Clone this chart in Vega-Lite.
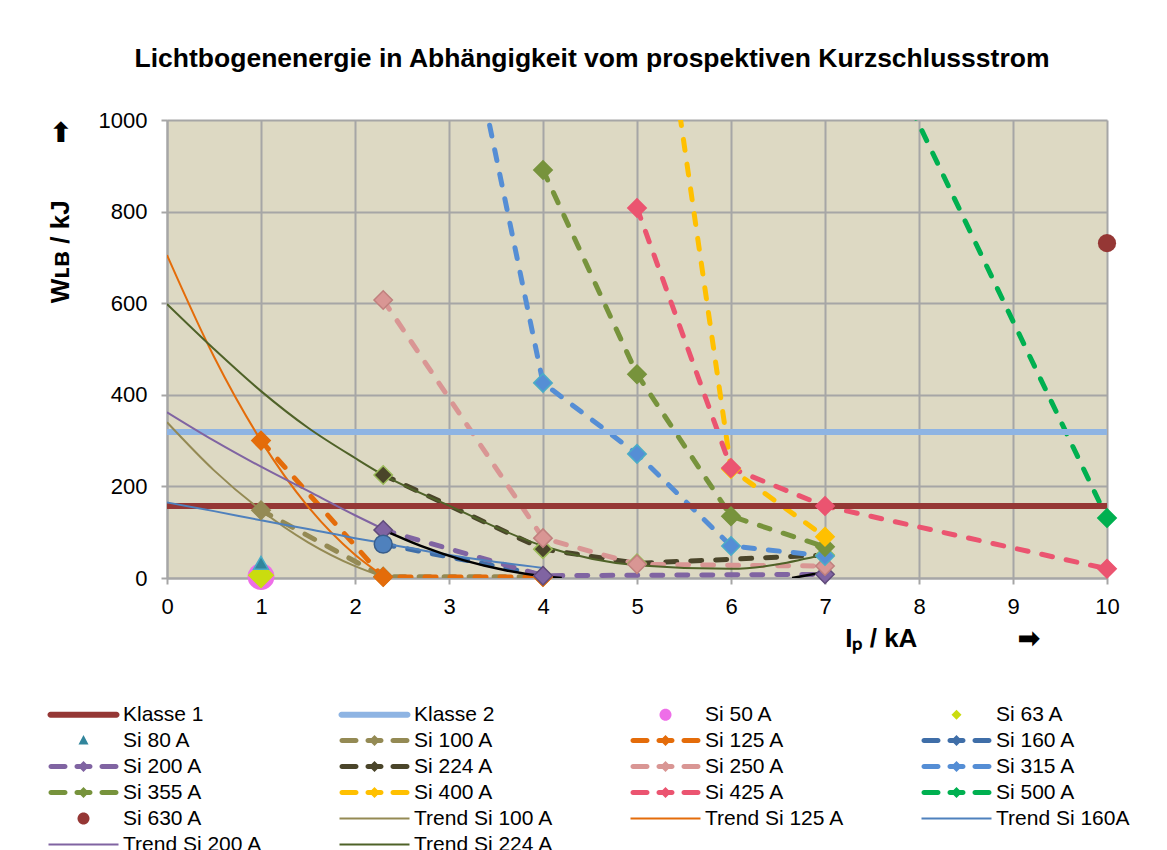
{
  "$schema": "https://vega.github.io/schema/vega-lite/v6.json",
  "width": 940,
  "height": 458,
  "autosize": {"type": "none"},
  "padding": {"left": 167, "top": 120, "right": 60, "bottom": 272},
  "background": "white",
  "title": {
    "text": "Lichtbogenenergie in Abhängigkeit vom prospektiven Kurzschlussstrom",
    "font": "Liberation Sans", "fontSize": 26.5, "fontWeight": "bold", "color": "black",
    "anchor": "middle", "frame": "group", "baseline": "middle", "offset": 24, "dx": -45
  },
  "config": {
    "view": {"stroke": null, "fill": "#DDD9C3"},
    "axis": {
      "grid": true, "gridColor": "#A6A6A6", "gridWidth": 2,
      "domainColor": "#A6A6A6", "domainWidth": 2,
      "tickColor": "#A6A6A6", "tickWidth": 2, "tickSize": 6,
      "labelFont": "Liberation Sans", "labelFontSize": 22, "labelColor": "black",
      "labelFlush": false, "labelOverlap": false,
      "titleFont": "Liberation Sans", "titleFontSize": 26, "titleFontWeight": "bold", "titleColor": "black"
    }
  },
  "datasets": {
    "pts": [
      {"s": "Klasse 1", "x": 0, "y": 157}, {"s": "Klasse 1", "x": 10, "y": 157},
      {"s": "Klasse 2", "x": 0, "y": 319}, {"s": "Klasse 2", "x": 10, "y": 319},
      {"s": "Si 50 A", "x": 1, "y": 3},
      {"s": "Si 63 A", "x": 1, "y": 6},
      {"s": "Si 80 A", "x": 1, "y": 33},
      {"s": "Si 100 A", "x": 1, "y": 148}, {"s": "Si 100 A", "x": 2.3, "y": 3}, {"s": "Si 100 A", "x": 4, "y": 3},
      {"s": "Si 125 A", "x": 1, "y": 300}, {"s": "Si 125 A", "x": 2.3, "y": 2}, {"s": "Si 125 A", "x": 4, "y": 2},
      {"s": "Si 160 A", "x": 2.3, "y": 74}, {"s": "Si 160 A", "x": 4, "y": 6},
      {"s": "Si 200 A", "x": 2.3, "y": 105}, {"s": "Si 200 A", "x": 4, "y": 5}, {"s": "Si 200 A", "x": 7, "y": 8},
      {"s": "Si 224 A", "x": 2.3, "y": 225}, {"s": "Si 224 A", "x": 4, "y": 63}, {"s": "Si 224 A", "x": 5, "y": 32}, {"s": "Si 224 A", "x": 7, "y": 50},
      {"s": "Si 250 A", "x": 2.3, "y": 607}, {"s": "Si 250 A", "x": 4, "y": 87}, {"s": "Si 250 A", "x": 5, "y": 30}, {"s": "Si 250 A", "x": 7, "y": 26},
      {"s": "Si 315 A", "x": 3, "y": 1416}, {"s": "Si 315 A", "x": 4, "y": 426}, {"s": "Si 315 A", "x": 5, "y": 271}, {"s": "Si 315 A", "x": 6, "y": 70}, {"s": "Si 315 A", "x": 7, "y": 48},
      {"s": "Si 355 A", "x": 4, "y": 891}, {"s": "Si 355 A", "x": 5, "y": 445}, {"s": "Si 355 A", "x": 6, "y": 135}, {"s": "Si 355 A", "x": 7, "y": 68},
      {"s": "Si 400 A", "x": 5, "y": 1660}, {"s": "Si 400 A", "x": 6, "y": 238}, {"s": "Si 400 A", "x": 7, "y": 90},
      {"s": "Si 425 A", "x": 5, "y": 808}, {"s": "Si 425 A", "x": 6, "y": 240}, {"s": "Si 425 A", "x": 7, "y": 157}, {"s": "Si 425 A", "x": 10, "y": 20},
      {"s": "Si 500 A", "x": 7, "y": 1420}, {"s": "Si 500 A", "x": 10, "y": 131},
      {"s": "Si 630 A", "x": 10, "y": 731},
      {"s": "Trend Si 100 A", "x": 0, "y": 340}, {"s": "Trend Si 100 A", "x": 0.5, "y": 235}, {"s": "Trend Si 100 A", "x": 1, "y": 148}, {"s": "Trend Si 100 A", "x": 1.5, "y": 78}, {"s": "Trend Si 100 A", "x": 2, "y": 26}, {"s": "Trend Si 100 A", "x": 2.3, "y": 3},
      {"s": "Trend Si 125 A", "x": 0, "y": 705}, {"s": "Trend Si 125 A", "x": 0.5, "y": 483}, {"s": "Trend Si 125 A", "x": 1, "y": 300}, {"s": "Trend Si 125 A", "x": 1.5, "y": 156}, {"s": "Trend Si 125 A", "x": 2, "y": 51}, {"s": "Trend Si 125 A", "x": 2.3, "y": 5},
      {"s": "Trend Si 160A", "x": 0, "y": 165}, {"s": "Trend Si 160A", "x": 0.5, "y": 146}, {"s": "Trend Si 160A", "x": 1, "y": 126}, {"s": "Trend Si 160A", "x": 1.5, "y": 107}, {"s": "Trend Si 160A", "x": 2, "y": 87}, {"s": "Trend Si 160A", "x": 2.3, "y": 76}, {"s": "Trend Si 160A", "x": 3, "y": 50}, {"s": "Trend Si 160A", "x": 3.5, "y": 35}, {"s": "Trend Si 160A", "x": 4, "y": 22},
      {"s": "Trend Si 200 A", "x": 0, "y": 362}, {"s": "Trend Si 200 A", "x": 0.5, "y": 300}, {"s": "Trend Si 200 A", "x": 1, "y": 243}, {"s": "Trend Si 200 A", "x": 1.5, "y": 190}, {"s": "Trend Si 200 A", "x": 2, "y": 137}, {"s": "Trend Si 200 A", "x": 2.3, "y": 107},
      {"s": "Trend Si 224 A", "x": 0, "y": 598}, {"s": "Trend Si 224 A", "x": 0.5, "y": 500}, {"s": "Trend Si 224 A", "x": 1, "y": 408}, {"s": "Trend Si 224 A", "x": 1.5, "y": 328}, {"s": "Trend Si 224 A", "x": 2, "y": 262}, {"s": "Trend Si 224 A", "x": 2.3, "y": 225}, {"s": "Trend Si 224 A", "x": 3, "y": 158}, {"s": "Trend Si 224 A", "x": 4, "y": 70}, {"s": "Trend Si 224 A", "x": 5, "y": 28}, {"s": "Trend Si 224 A", "x": 6, "y": 20}, {"s": "Trend Si 224 A", "x": 7, "y": 52},
      {"s": "Trend schwarz", "t": "a", "x": 2.3, "y": 105}, {"s": "Trend schwarz", "t": "a", "x": 2.7, "y": 70}, {"s": "Trend schwarz", "t": "a", "x": 3.15, "y": 39}, {"s": "Trend schwarz", "t": "a", "x": 3.6, "y": 17}, {"s": "Trend schwarz", "t": "a", "x": 4, "y": 4}, {"s": "Trend schwarz", "t": "a", "x": 4.2, "y": 0},
      {"s": "Trend schwarz", "t": "b", "x": 6.65, "y": 0}, {"s": "Trend schwarz", "t": "b", "x": 7, "y": 13}
    ]
  },
  "data": {"name": "pts"},
  "encoding": {
    "x": {
      "field": "x", "type": "quantitative",
      "scale": {"domain": [0, 10], "nice": false, "zero": false},
      "axis": {
        "values": [0, 1, 2, 3, 4, 5, 6, 7, 8, 9, 10], "labelPadding": 12, "format": "d",
        "title": "Iₚ / kA\u00a0\u00a0\u00a0\u00a0\u00a0\u00a0\u00a0\u00a0\u00a0\u00a0\u00a0\u00a0\u00a0\u00a0➡", "titleAlign": "right", "titleBaseline": "middle", "titleX": 873, "titleY": 60
      }
    },
    "y": {
      "field": "y", "type": "quantitative",
      "scale": {"domain": [0, 1000], "nice": false},
      "axis": {
        "values": [0, 200, 400, 600, 800, 1000], "labelPadding": 14, "format": "d",
        "title": "Wʟʙ / kJ\u00a0\u00a0\u00a0\u00a0\u00a0\u00a0\u00a0\u00a0➡", "titleAngle": -90, "titleAlign": "right", "titleBaseline": "middle", "titleX": -107, "titleY": 0
      }
    },
    "color": {
      "field": "s", "type": "nominal",
      "scale": {
        "domain": ["Klasse 1", "Klasse 2", "Si 50 A", "Si 63 A", "Si 80 A", "Si 100 A", "Si 125 A", "Si 160 A", "Si 200 A", "Si 224 A", "Si 250 A", "Si 315 A", "Si 355 A", "Si 400 A", "Si 425 A", "Si 500 A", "Si 630 A", "Trend Si 100 A", "Trend Si 125 A", "Trend Si 160A", "Trend Si 200 A", "Trend Si 224 A"],
        "range": ["#953735", "#8EB4E3", "#EE6EE8", "#CADC0F", "#31859C", "#948A54", "#E46C0A", "#3F6EA8", "#8064A2", "#4A452A", "#D99694", "#558ED5", "#77933C", "#FFC000", "#EB5470", "#00B050", "#953735", "#948A54", "#E46C0A", "#4F81BD", "#8064A2", "#4F6228"]
      },
      "legend": {
        "title": null, "orient": "none", "direction": "horizontal", "legendX": -120, "legendY": 584, "padding": 0,
        "columns": 4, "gridAlign": "all", "columnPadding": 75, "rowPadding": 4,
        "symbolSize": 400, "symbolOffset": 26, "labelOffset": 29, "symbolStrokeWidth": 0, "symbolOpacity": 1,
        "labelFont": "Liberation Sans", "labelFontSize": 21, "labelColor": "black", "labelLimit": 300,
        "encode": {
          "symbols": {
            "update": {
              "shape": {"scale": "shape", "field": "value"},
              "size": {"value": 400},
              "fill": {"scale": "color", "field": "value"},
              "stroke": {"value": "transparent"},
              "strokeWidth": {"value": 0},
              "opacity": {"value": 1}
            }
          }
        }
      }
    }
  },
  "layer": [
    {
      "transform": [{"filter": "false"}],
      "mark": {"type": "point", "filled": true},
      "encoding": {
        "shape": {
          "field": "s", "type": "nominal",
          "scale": {
            "domain": ["Klasse 1", "Klasse 2", "Si 50 A", "Si 63 A", "Si 80 A", "Si 100 A", "Si 125 A", "Si 160 A", "Si 200 A", "Si 224 A", "Si 250 A", "Si 315 A", "Si 355 A", "Si 400 A", "Si 425 A", "Si 500 A", "Si 630 A", "Trend Si 100 A", "Trend Si 125 A", "Trend Si 160A", "Trend Si 200 A", "Trend Si 224 A"],
            "range": [
              "M-3.3,-0.3H3.3A0.3,0.3 0 0 1 3.3,0.3H-3.3A0.3,0.3 0 0 1 -3.3,-0.3Z",
              "M-3.3,-0.3H3.3A0.3,0.3 0 0 1 3.3,0.3H-3.3A0.3,0.3 0 0 1 -3.3,-0.3Z",
              "M-0.6,0A0.6,0.6 0 1 1 0.6,0A0.6,0.6 0 1 1 -0.6,0Z",
              "M0,-0.5L0.5,0L0,0.5L-0.5,0Z",
              "M0,-0.55L0.5,0.4L-0.5,0.4Z",
              "M-3.25,-0.25H-1.85A0.25,0.25 0 0 1 -1.85,0.25H-3.25A0.25,0.25 0 0 1 -3.25,-0.25ZM-0.65,-0.25H0.65A0.25,0.25 0 0 1 0.65,0.25H-0.65A0.25,0.25 0 0 1 -0.65,-0.25ZM1.85,-0.25H3.25A0.25,0.25 0 0 1 3.25,0.25H1.85A0.25,0.25 0 0 1 1.85,-0.25ZM0,-0.55L0.55,0L0,0.55L-0.55,0Z",
              "M-3.25,-0.25H-1.85A0.25,0.25 0 0 1 -1.85,0.25H-3.25A0.25,0.25 0 0 1 -3.25,-0.25ZM-0.65,-0.25H0.65A0.25,0.25 0 0 1 0.65,0.25H-0.65A0.25,0.25 0 0 1 -0.65,-0.25ZM1.85,-0.25H3.25A0.25,0.25 0 0 1 3.25,0.25H1.85A0.25,0.25 0 0 1 1.85,-0.25ZM0,-0.55L0.55,0L0,0.55L-0.55,0Z",
              "M-3.25,-0.25H-1.85A0.25,0.25 0 0 1 -1.85,0.25H-3.25A0.25,0.25 0 0 1 -3.25,-0.25ZM-0.65,-0.25H0.65A0.25,0.25 0 0 1 0.65,0.25H-0.65A0.25,0.25 0 0 1 -0.65,-0.25ZM1.85,-0.25H3.25A0.25,0.25 0 0 1 3.25,0.25H1.85A0.25,0.25 0 0 1 1.85,-0.25ZM0,-0.55L0.55,0L0,0.55L-0.55,0Z",
              "M-3.25,-0.25H-1.85A0.25,0.25 0 0 1 -1.85,0.25H-3.25A0.25,0.25 0 0 1 -3.25,-0.25ZM-0.65,-0.25H0.65A0.25,0.25 0 0 1 0.65,0.25H-0.65A0.25,0.25 0 0 1 -0.65,-0.25ZM1.85,-0.25H3.25A0.25,0.25 0 0 1 3.25,0.25H1.85A0.25,0.25 0 0 1 1.85,-0.25ZM0,-0.55L0.55,0L0,0.55L-0.55,0Z",
              "M-3.25,-0.25H-1.85A0.25,0.25 0 0 1 -1.85,0.25H-3.25A0.25,0.25 0 0 1 -3.25,-0.25ZM-0.65,-0.25H0.65A0.25,0.25 0 0 1 0.65,0.25H-0.65A0.25,0.25 0 0 1 -0.65,-0.25ZM1.85,-0.25H3.25A0.25,0.25 0 0 1 3.25,0.25H1.85A0.25,0.25 0 0 1 1.85,-0.25ZM0,-0.55L0.55,0L0,0.55L-0.55,0Z",
              "M-3.25,-0.25H-1.85A0.25,0.25 0 0 1 -1.85,0.25H-3.25A0.25,0.25 0 0 1 -3.25,-0.25ZM-0.65,-0.25H0.65A0.25,0.25 0 0 1 0.65,0.25H-0.65A0.25,0.25 0 0 1 -0.65,-0.25ZM1.85,-0.25H3.25A0.25,0.25 0 0 1 3.25,0.25H1.85A0.25,0.25 0 0 1 1.85,-0.25ZM0,-0.55L0.55,0L0,0.55L-0.55,0Z",
              "M-3.25,-0.25H-1.85A0.25,0.25 0 0 1 -1.85,0.25H-3.25A0.25,0.25 0 0 1 -3.25,-0.25ZM-0.65,-0.25H0.65A0.25,0.25 0 0 1 0.65,0.25H-0.65A0.25,0.25 0 0 1 -0.65,-0.25ZM1.85,-0.25H3.25A0.25,0.25 0 0 1 3.25,0.25H1.85A0.25,0.25 0 0 1 1.85,-0.25ZM0,-0.55L0.55,0L0,0.55L-0.55,0Z",
              "M-3.25,-0.25H-1.85A0.25,0.25 0 0 1 -1.85,0.25H-3.25A0.25,0.25 0 0 1 -3.25,-0.25ZM-0.65,-0.25H0.65A0.25,0.25 0 0 1 0.65,0.25H-0.65A0.25,0.25 0 0 1 -0.65,-0.25ZM1.85,-0.25H3.25A0.25,0.25 0 0 1 3.25,0.25H1.85A0.25,0.25 0 0 1 1.85,-0.25ZM0,-0.55L0.55,0L0,0.55L-0.55,0Z",
              "M-3.25,-0.25H-1.85A0.25,0.25 0 0 1 -1.85,0.25H-3.25A0.25,0.25 0 0 1 -3.25,-0.25ZM-0.65,-0.25H0.65A0.25,0.25 0 0 1 0.65,0.25H-0.65A0.25,0.25 0 0 1 -0.65,-0.25ZM1.85,-0.25H3.25A0.25,0.25 0 0 1 3.25,0.25H1.85A0.25,0.25 0 0 1 1.85,-0.25ZM0,-0.55L0.55,0L0,0.55L-0.55,0Z",
              "M-3.25,-0.25H-1.85A0.25,0.25 0 0 1 -1.85,0.25H-3.25A0.25,0.25 0 0 1 -3.25,-0.25ZM-0.65,-0.25H0.65A0.25,0.25 0 0 1 0.65,0.25H-0.65A0.25,0.25 0 0 1 -0.65,-0.25ZM1.85,-0.25H3.25A0.25,0.25 0 0 1 3.25,0.25H1.85A0.25,0.25 0 0 1 1.85,-0.25ZM0,-0.55L0.55,0L0,0.55L-0.55,0Z",
              "M-3.25,-0.25H-1.85A0.25,0.25 0 0 1 -1.85,0.25H-3.25A0.25,0.25 0 0 1 -3.25,-0.25ZM-0.65,-0.25H0.65A0.25,0.25 0 0 1 0.65,0.25H-0.65A0.25,0.25 0 0 1 -0.65,-0.25ZM1.85,-0.25H3.25A0.25,0.25 0 0 1 3.25,0.25H1.85A0.25,0.25 0 0 1 1.85,-0.25ZM0,-0.55L0.55,0L0,0.55L-0.55,0Z",
              "M-0.6,0A0.6,0.6 0 1 1 0.6,0A0.6,0.6 0 1 1 -0.6,0Z",
              "M-3.5,-0.1H3.5V0.1H-3.5Z",
              "M-3.5,-0.1H3.5V0.1H-3.5Z",
              "M-3.5,-0.1H3.5V0.1H-3.5Z",
              "M-3.5,-0.1H3.5V0.1H-3.5Z",
              "M-3.5,-0.1H3.5V0.1H-3.5Z"
            ]
          }
        }
      }
    },
    {
      "transform": [{"filter": {"field": "s", "oneOf": ["Si 100 A", "Si 125 A", "Si 160 A", "Si 200 A", "Si 224 A", "Si 250 A", "Si 315 A", "Si 355 A", "Si 400 A", "Si 425 A", "Si 500 A"]}}],
      "mark": {"type": "line", "strokeWidth": 5, "strokeDash": [11, 14], "strokeCap": "round", "clip": true}
    },
    {
      "transform": [{"filter": {"field": "s", "oneOf": ["Klasse 1", "Klasse 2"]}}],
      "mark": {"type": "line", "strokeWidth": 6, "clip": true}
    },
    {
      "transform": [{"filter": {"field": "s", "oneOf": ["Trend Si 100 A", "Trend Si 125 A", "Trend Si 160A", "Trend Si 200 A", "Trend Si 224 A"]}}],
      "mark": {"type": "line", "strokeWidth": 2, "interpolate": "monotone", "clip": true}
    },
    {
      "transform": [{"filter": {"field": "s", "equal": "Trend schwarz"}}],
      "mark": {"type": "line", "strokeWidth": 2.5, "interpolate": "monotone", "clip": true},
      "encoding": {"color": {"value": "black"}, "detail": {"field": "t", "type": "nominal"}}
    },
    {
      "transform": [
        {"filter": {"field": "s", "oneOf": ["Si 100 A", "Si 125 A", "Si 200 A", "Si 224 A", "Si 250 A", "Si 315 A", "Si 355 A", "Si 400 A", "Si 425 A", "Si 500 A"]}},
        {"filter": {"field": "y", "lte": 1000}}
      ],
      "mark": {"type": "point", "shape": "diamond", "filled": true, "size": 340, "strokeWidth": 1.5, "opacity": 1},
      "encoding": {
        "stroke": {
          "field": "s", "type": "nominal", "legend": null,
          "scale": {
            "domain": ["Si 50 A", "Si 63 A", "Si 80 A", "Si 100 A", "Si 125 A", "Si 160 A", "Si 200 A", "Si 224 A", "Si 250 A", "Si 315 A", "Si 355 A", "Si 400 A", "Si 425 A", "Si 500 A", "Si 630 A"],
            "range": ["#EE6EE8", "#CADC0F", "#4BACC6", "#948A54", "#E46C0A", "#385D8A", "#604A7B", "#9BBB59", "#C0807E", "#4BACC6", "#77933C", "#FFC000", "#EB5470", "#00B050", "#953735"]
          }
        }
      }
    },
    {
      "transform": [{"filter": {"field": "s", "equal": "Si 160 A"}}, {"filter": {"field": "x", "lte": 3}}],
      "mark": {"type": "point", "shape": "circle", "filled": true, "size": 320, "strokeWidth": 1.5, "opacity": 1},
      "encoding": {"color": {"value": "#4F81BD"}, "stroke": {"field": "s", "type": "nominal", "legend": null}}
    },
    {
      "transform": [{"filter": {"field": "s", "equal": "Si 50 A"}}],
      "mark": {"type": "point", "shape": "circle", "filled": true, "size": 720, "opacity": 1}
    },
    {
      "transform": [{"filter": {"field": "s", "equal": "Si 63 A"}}],
      "mark": {"type": "point", "shape": "diamond", "filled": true, "size": 700, "opacity": 1}
    },
    {
      "transform": [{"filter": {"field": "s", "equal": "Si 80 A"}}],
      "mark": {"type": "point", "shape": "triangle-up", "filled": true, "size": 220, "strokeWidth": 1.5, "opacity": 1},
      "encoding": {"stroke": {"field": "s", "type": "nominal", "legend": null}}
    },
    {
      "transform": [{"filter": {"field": "s", "equal": "Si 630 A"}}],
      "mark": {"type": "point", "shape": "circle", "filled": true, "size": 330, "opacity": 1}
    }
  ]
}
